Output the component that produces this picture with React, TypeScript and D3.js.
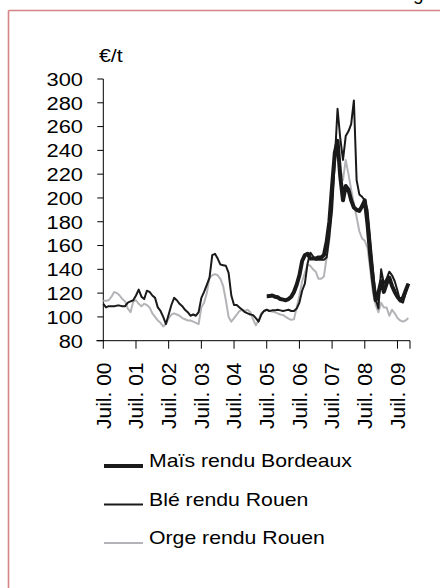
import React from "react";
import * as d3 from "d3";

// monthly prices, €/t, starting Juil. 2000 (month 0)
const ble = [
  111, 108, 109, 109, 109, 109.5, 109.5, 109, 109, 112, 113, 114,
  118, 123, 117, 115, 122, 121, 118, 116, 108, 105, 100, 94,
  102, 110, 116, 114, 111, 109, 106, 104, 101, 102, 101, 104,
  116, 121, 127, 133, 152, 153, 149, 144, 143.5, 143, 137, 118,
  110, 110, 108, 106, 104, 103, 102, 101.5, 99, 96, 102, 105,
  106, 105, 105.5, 105.5, 106, 105.5, 105, 105.5, 106, 105, 105, 107,
  112, 122, 128, 145, 154, 151, 148, 148, 148, 148, 150, 168,
  190, 232, 275, 250, 232, 252, 256, 262, 282, 215, 203, 201,
  198, 190, 165, 140, 115, 107, 140, 128, 132, 138, 135, 130,
  122, 113, 112, 120, 128,
];

const orge = [
  113.5, 113.5, 114, 117, 121, 120, 118, 115, 113, 107, 104, 113,
  114, 111, 109, 111, 110, 108, 103, 100, 97, 95, 92, 94,
  99, 102, 103, 102, 101, 99, 98, 97, 97, 96, 95, 94,
  108, 112, 120, 133, 135, 136, 135, 132, 126, 114, 100, 96,
  99, 102, 105, 106, 105, 106, 104, 98, 93, 97, 103, 105,
  106, 105, 104.5, 104, 103, 102, 101.5, 100, 98.5, 97.5, 98, 108,
  118, 130, 137, 144, 143, 140, 138, 132, 132, 134, 150, 165,
  195, 230, 245, 225, 215, 232, 220, 207, 195, 184, 172, 166,
  164, 158, 140, 120, 110, 104, 112, 108, 108, 101, 106, 103,
  99, 97, 96, 97, 99,
];

// maïs starts Juil. 2005 (month 60)
const maisStart = 60;
const mais = [
  117.4, 117.5, 118, 117, 116.5, 115, 114.5, 114, 115, 117, 121, 127,
  135, 147, 152, 153, 149, 149, 149, 150, 150, 152, 163, 180,
  210, 238, 248, 218, 198, 210, 207, 198, 192, 190, 189, 193,
  198, 178, 152, 131, 114, 120, 130, 121, 128, 133, 126, 121,
  117, 114, 116, 122, 128,
];

const yTicks = [80, 100, 120, 140, 160, 180, 200, 220, 240, 260, 280, 300];
const xLabels = ["Juil. 00", "Juil. 01", "Juil. 02", "Juil. 03", "Juil. 04", "Juil. 05", "Juil. 06", "Juil. 07", "Juil. 08", "Juil. 09"];
const legendItems = [
  { name: "Maïs rendu Bordeaux", color: "#1a1a1a", width: 4 },
  { name: "Blé rendu Rouen", color: "#1a1a1a", width: 2 },
  { name: "Orge rendu Rouen", color: "#b4b4b8", width: 2 },
];

const FONT = "'Liberation Sans', Arial, sans-serif";

export default function App() {
  const x = d3.scaleLinear().domain([0, 112.6]).range([103.3, 410]);
  const y = d3.scaleLinear().domain([80, 300]).range([340.7, 79]);

  const line = d3
    .line<number>()
    .x((d, i) => x(i))
    .y(d => y(d));
  const lineMais = d3
    .line<number>()
    .x((d, i) => x(i + maisStart))
    .y(d => y(d));

  const x0 = x.range()[0];
  const x1 = x.range()[1];
  const yBase = y(80);

  return (
    <svg
      width={440}
      height={588}
      style={{ position: "absolute", left: 0, top: 0, background: "#fff" }}
      fontFamily={FONT}
    >
      {/* frame */}
      <line x1={8.5} y1={10.5} x2={440} y2={10.5} stroke="#d48484" strokeWidth={1.6} />
      <line x1={8.5} y1={10.5} x2={8.5} y2={588} stroke="#d48484" strokeWidth={1.6} />
      <text x={413} y={0} fontSize={19}>g</text>

      {/* unit */}
      <text transform="translate(99,62) scale(1.12,1)" fontSize={19}>€/t</text>

      {/* y axis */}
      <line x1={x0} y1={y(300)} x2={x0} y2={yBase} stroke="#000" strokeWidth={1} />
      {yTicks.map(t => (
        <g key={t}>
          <line x1={x0 - 6} x2={x0} y1={y(t)} y2={y(t)} stroke="#000" strokeWidth={1} />
          <text
            transform={`translate(83,${y(t) + 6.8}) scale(1.15,1)`}
            textAnchor="end"
            fontSize={19}
          >
            {t}
          </text>
        </g>
      ))}

      {/* x axis */}
      <line x1={x0 - 7} y1={yBase} x2={x1} y2={yBase} stroke="#000" strokeWidth={1} />
      {xLabels.map((lab, i) => {
        const tx = x(i * 12);
        return (
          <g key={lab}>
            <line x1={tx} x2={tx} y1={yBase} y2={yBase + 8} stroke="#000" strokeWidth={1} />
            <text
              transform={`translate(${tx + 7.3},362.5) rotate(-90)`}
              textAnchor="end"
              fontSize={21}
            >
              {lab}
            </text>
          </g>
        );
      })}
      <line x1={x1} x2={x1} y1={yBase} y2={yBase + 8} stroke="#000" strokeWidth={1} />

      {/* series */}
      <path d={line(orge) || ""} fill="none" stroke="#b4b4b8" strokeWidth={2} strokeLinejoin="round" />
      <path d={line(ble) || ""} fill="none" stroke="#1a1a1a" strokeWidth={2} strokeLinejoin="round" />
      <path d={lineMais(mais) || ""} fill="none" stroke="#1a1a1a" strokeWidth={4} strokeLinejoin="round" />

      {/* legend */}
      {legendItems.map((it, i) => {
        const ly = 467 + i * 38.5;
        return (
          <g key={it.name}>
            <line x1={104} x2={143} y1={ly - 1} y2={ly - 1} stroke={it.color} strokeWidth={it.width} />
            <text transform={`translate(149,${ly}) scale(1.13,1)`} fontSize={18.8}>
              {it.name}
            </text>
          </g>
        );
      })}
    </svg>
  );
}
